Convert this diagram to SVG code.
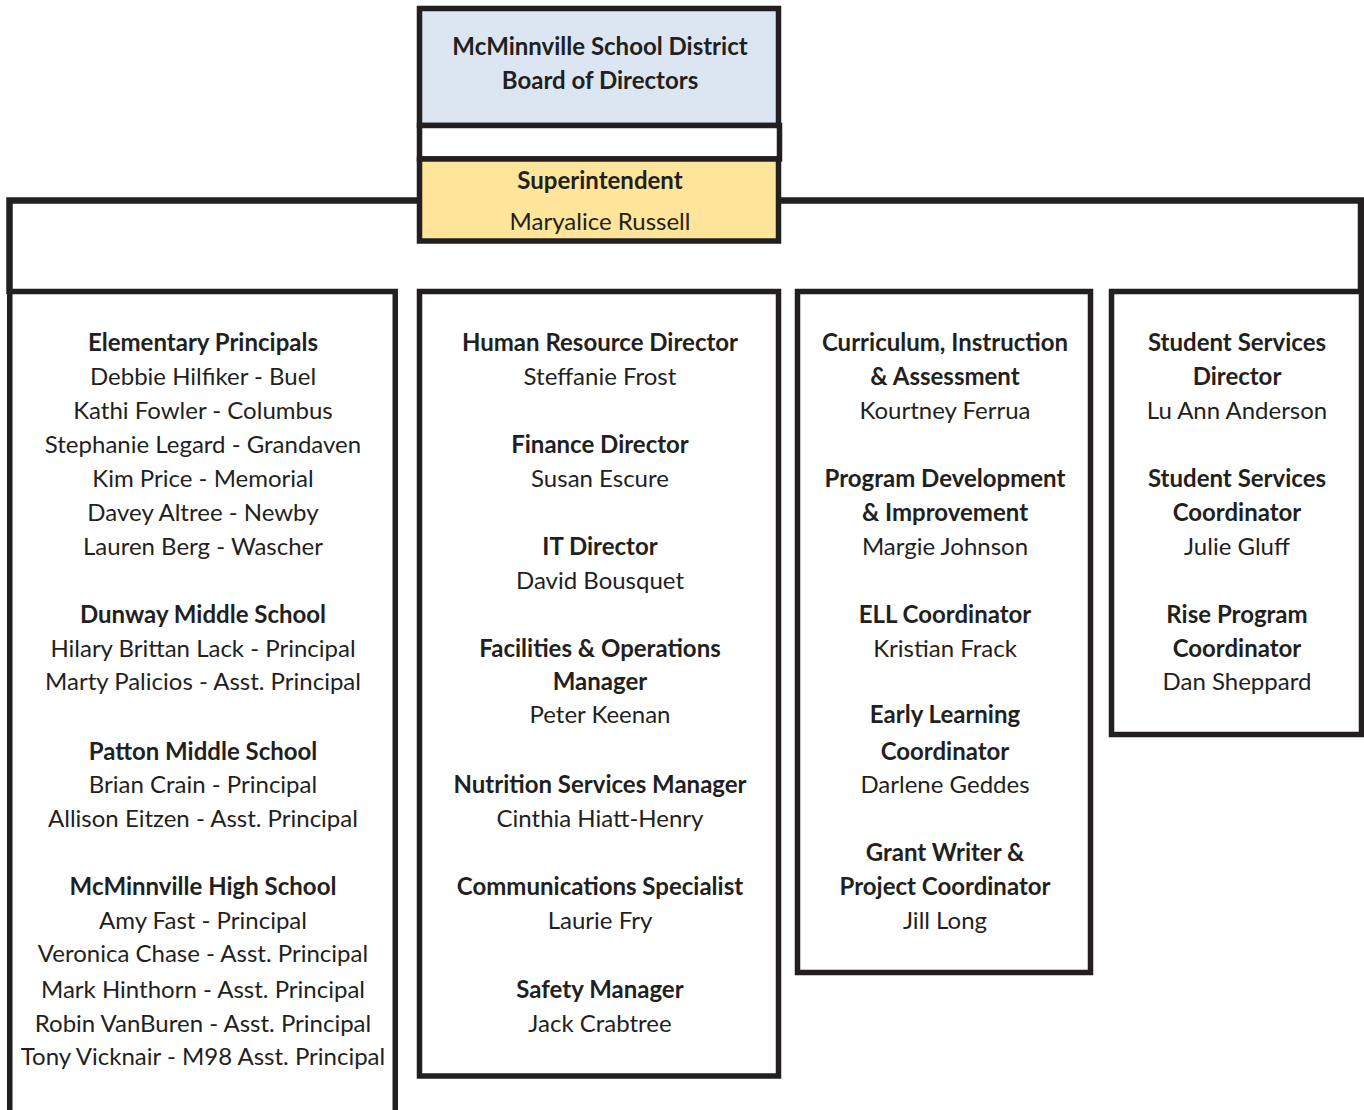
<svg xmlns="http://www.w3.org/2000/svg" width="1364" height="1110" viewBox="0 0 1364 1110">
<style>
.box{fill:#ffffff;stroke:#231f20;stroke-width:5.5}
.conn{fill:none;stroke:#231f20;stroke-width:6.5}
text{font-family:Lato,"Liberation Sans",sans-serif;font-size:24px;fill:#231f20;text-anchor:middle}
.b{font-weight:bold}
</style>
<rect width="1364" height="1110" fill="#ffffff"/>
<g id="connectors">
<path class="conn" d="M9.5,294 V200.5 H1361 V294"/>
</g>
<g id="board">
<rect class="box" x="419.5" y="8.5" width="359" height="117" style="fill:#dce6f2"/>
<text class="b" x="600" y="55">McMinnville School District</text>
<text class="b" x="600" y="89">Board of Directors</text>
</g>
<g id="spacer">
<rect class="box" x="419.5" y="125.5" width="360" height="33.5"/>
</g>
<g id="superintendent">
<rect class="box" x="419.5" y="159" width="359" height="82" style="fill:#fee599"/>
<text class="b" x="600" y="189">Superintendent</text>
<text x="600" y="230">Maryalice Russell</text>
</g>
<g id="principals">
<rect class="box" x="9.75" y="291.5" width="385.5" height="830"/>
<text class="b" x="203" y="351">Elementary Principals</text>
<text x="203" y="385">Debbie Hilfiker - Buel</text>
<text x="203" y="419">Kathi Fowler - Columbus</text>
<text x="203" y="453">Stephanie Legard - Grandaven</text>
<text x="203" y="487">Kim Price - Memorial</text>
<text x="203" y="521">Davey Altree - Newby</text>
<text x="203" y="555">Lauren Berg - Wascher</text>
<text class="b" x="203" y="623">Dunway Middle School</text>
<text x="203" y="657">Hilary Brittan Lack - Principal</text>
<text x="203" y="690">Marty Palicios - Asst. Principal</text>
<text class="b" x="203" y="760">Patton Middle School</text>
<text x="203" y="793">Brian Crain - Principal</text>
<text x="203" y="827">Allison Eitzen - Asst. Principal</text>
<text class="b" x="203" y="895">McMinnville High School</text>
<text x="203" y="929">Amy Fast - Principal</text>
<text x="203" y="962">Veronica Chase - Asst. Principal</text>
<text x="203" y="998">Mark Hinthorn - Asst. Principal</text>
<text x="203" y="1032">Robin VanBuren - Asst. Principal</text>
<text x="203" y="1065">Tony Vicknair - M98 Asst. Principal</text>
</g>
<g id="operations">
<rect class="box" x="419.5" y="291.5" width="359" height="784.5"/>
<text class="b" x="600" y="351">Human Resource Director</text>
<text x="600" y="385">Steffanie Frost</text>
<text class="b" x="600" y="453">Finance Director</text>
<text x="600" y="487">Susan Escure</text>
<text class="b" x="600" y="555">IT Director</text>
<text x="600" y="589">David Bousquet</text>
<text class="b" x="600" y="657">Facilities &amp; Operations</text>
<text class="b" x="600" y="690">Manager</text>
<text x="600" y="723">Peter Keenan</text>
<text class="b" x="600" y="793">Nutrition Services Manager</text>
<text x="600" y="827">Cinthia Hiatt-Henry</text>
<text class="b" x="600" y="895">Communications Specialist</text>
<text x="600" y="929">Laurie Fry</text>
<text class="b" x="600" y="998">Safety Manager</text>
<text x="600" y="1032">Jack Crabtree</text>
</g>
<g id="curriculum">
<rect class="box" x="797.5" y="291.5" width="293" height="681"/>
<text class="b" x="945" y="351">Curriculum, Instruction</text>
<text class="b" x="945" y="385">&amp; Assessment</text>
<text x="945" y="419">Kourtney Ferrua</text>
<text class="b" x="945" y="487">Program Development</text>
<text class="b" x="945" y="521">&amp; Improvement</text>
<text x="945" y="555">Margie Johnson</text>
<text class="b" x="945" y="623">ELL Coordinator</text>
<text x="945" y="657">Kristian Frack</text>
<text class="b" x="945" y="723">Early Learning</text>
<text class="b" x="945" y="760">Coordinator</text>
<text x="945" y="793">Darlene Geddes</text>
<text class="b" x="945" y="861">Grant Writer &amp;</text>
<text class="b" x="945" y="895">Project Coordinator</text>
<text x="945" y="929">Jill Long</text>
</g>
<g id="student-services">
<rect class="box" x="1111.5" y="291.5" width="250" height="443"/>
<text class="b" x="1237" y="351">Student Services</text>
<text class="b" x="1237" y="385">Director</text>
<text x="1237" y="419">Lu Ann Anderson</text>
<text class="b" x="1237" y="487">Student Services</text>
<text class="b" x="1237" y="521">Coordinator</text>
<text x="1237" y="555">Julie Gluff</text>
<text class="b" x="1237" y="623">Rise Program</text>
<text class="b" x="1237" y="657">Coordinator</text>
<text x="1237" y="690">Dan Sheppard</text>
</g>
</svg>
